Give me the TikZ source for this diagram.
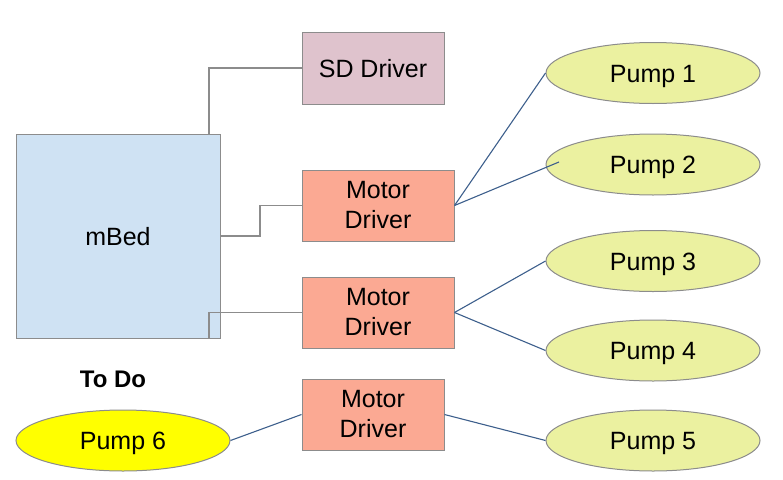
\documentclass[tikz,border=0pt]{standalone}
\usepackage{fontspec}
\setmainfont{Liberation Sans}
\usetikzlibrary{shapes.geometric}
\definecolor{mbedfill}{HTML}{CFE2F3}
\definecolor{sdfill}{HTML}{DFC3CD}
\definecolor{motorfill}{HTML}{FBA993}
\definecolor{pumpfill}{HTML}{EBF1A0}
\definecolor{pumpsix}{HTML}{FFFF00}
\definecolor{edgegray}{HTML}{8C8C8C}
\definecolor{linkblue}{HTML}{3D5F8C}
\tikzset{
  box/.style={draw=edgegray, line width=1pt, inner sep=0pt, align=center, font=\fontsize{25}{30}\selectfont},
  onel/.style={text height=18pt, text depth=0pt},
  pump/.style={ellipse, draw=edgegray, line width=1pt, fill=pumpfill, inner sep=0pt, minimum width=214pt, minimum height=61pt, font=\fontsize{25}{30}\selectfont, text height=18pt, text depth=0pt},
  grayline/.style={draw=edgegray, line width=1.2pt},
  blueline/.style={draw=linkblue, line width=1.1pt},
}
\begin{document}
\begin{tikzpicture}[x=1pt,y=-1pt]
\useasboundingbox (0,0) rectangle (783,479);
\node[box, onel, fill=mbedfill, minimum width=204pt, minimum height=204pt] (mbed) at (118,236) {mBed};
\node[box, onel, fill=sdfill, minimum width=142pt, minimum height=72pt] (sd) at (373,68) {SD Driver};
\node[box, fill=motorfill, minimum width=152pt, minimum height=71pt] (m1) at (378,205.5) {Motor\\Driver};
\node[box, fill=motorfill, minimum width=152pt, minimum height=71pt] (m2) at (378,312.5) {Motor\\Driver};
\node[box, fill=motorfill, minimum width=142pt, minimum height=71pt] (m3) at (373,414.5) {Motor\\Driver};
\node[pump] (p1) at (653,73) {Pump 1};
\node[pump] (p2) at (653,164.5) {Pump 2};
\node[pump] (p3) at (653,261) {Pump 3};
\node[pump] (p4) at (653,350.5) {Pump 4};
\node[pump] (p5) at (653,440.5) {Pump 5};
\node[pump, fill=pumpsix] (p6) at (123,440.5) {Pump 6};
\node[font=\fontsize{24}{29}\selectfont\bfseries, text height=17pt, text depth=0pt] (todo) at (113,378.5) {To Do};
\coordinate (mtop) at (209,134);
\coordinate (mright) at (220,236);
\coordinate (mbot) at (209,338);
\coordinate (p2in) at (559,162);
\draw[grayline] (mtop) -- (209,68) -- (sd.west);
\draw[grayline] (mright) -- (260,236) -- (260,205.5) -- (m1.west);
\draw[grayline] (m2.west) -- (209,312.5) -- (mbot);
\draw[blueline] (m1.east) -- (p1.west);
\draw[blueline] (m1.east) -- (p2in);
\draw[blueline] (m2.east) -- (p3.west);
\draw[blueline] (m2.east) -- (p4.west);
\draw[blueline] (m3.east) -- (p5.west);
\draw[blueline] (p6.east) -- (m3.west);
\end{tikzpicture}
\end{document}
